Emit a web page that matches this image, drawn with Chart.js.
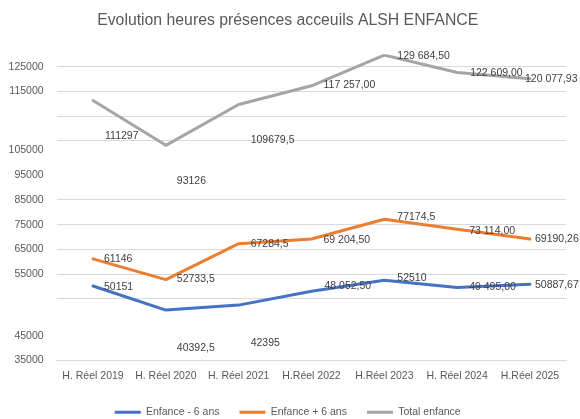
<!DOCTYPE html>
<html lang="fr">
<head>
<meta charset="utf-8">
<title>Evolution heures présences acceuils ALSH ENFANCE</title>
<script src="https://cdn.jsdelivr.net/npm/chart.js@4/dist/chart.umd.min.js"></script>
<style>
  html, body { margin: 0; padding: 0; background: #fff; }
  #wrap { width: 580px; height: 419px; position: relative; }
</style>
</head>
<body>
<div id="wrap"><canvas id="alshChart"></canvas></div>
<script>
// categories (x axis)
const years = ["H. Réel 2019", "H. Réel 2020", "H. Réel 2021", "H.Réel 2022", "H.Réel 2023", "H. Réel 2024", "H.Réel 2025"];

// series values
const moins6 = [50151, 40392.5, 42395, 48052.5, 52510, 49495, 50887.67];
const plus6 = [61146, 52733.5, 67284.5, 69204.5, 77174.5, 73114, 69190.26];
const totalEnfance = [111297, 93126, 109679.5, 117257, 129684.5, 122609, 120077.93];

// how each data label is written ("fr" = spaced thousands + 2 decimals)
const fmtMoins6 = ["", "", "", "fr", "", "fr", ""];
const fmtPlus6 = ["", "", "", "fr", "", "fr", ""];
const fmtTotal = ["", "", "", "fr", "fr", "fr", "fr"];

// left axis: tick values and the text shown there (the original axis is patched by hand)
const yTickValues = [139000, 129000, 119000, 109000, 105000, 95000, 85000, 75000, 65000, 55000, 45000, 30000, 20000];
const yTickLabels = ["125000", "115000", "", "", "105000", "95000", "85000", "75000", "65000", "55000", "", "45000", "35000"];
const yGridValues = [139000, 129000, 119000, 109000, 85000, 75000, 65000, 55000, 45000];

// label offsets (px) from each point: [dx, dy]
const offMoins6 = [[11, 1], [11, 38], [12, 38], [13, -5], [13, -2], [12, 0], [5, 1]];
const offPlus6 = [[11, 0], [11, 0], [12, 0], [12, 1], [13, -2], [12, 2], [5, 0]];
const offTotal = [[12, 36], [11, 36], [12, 36], [12, -1], [13, 1], [13, 1], [-5, 0]];

const BLUE = "#4472C4", ORANGE = "#ED7D31", GREY = "#A5A5A5";
const FONT = '"Liberation Sans", Arial, sans-serif';

function formatValue(v, f) {
  if (f !== "fr") return String(v).replace(".", ",");
  const parts = v.toFixed(2).split(".");
  const intPart = parts[0].replace(/\B(?=(\d{3})+(?!\d))/g, " ");
  return intPart + "," + parts[1];
}

// simple data label drawing (no datalabels plugin available)
const pointLabels = {
  id: "pointLabels",
  afterDatasetsDraw(chart) {
    const c = chart.ctx;
    c.save();
    c.font = "10.5px " + FONT;
    c.fillStyle = "#404040";
    c.textAlign = "left";
    c.textBaseline = "middle";
    chart.data.datasets.forEach((ds, di) => {
      const meta = chart.getDatasetMeta(di);
      meta.data.forEach((pt, i) => {
        const off = ds.labelOffsets[i];
        c.fillText(formatValue(ds.data[i], ds.labelFormats[i]), pt.x + off[0], pt.y + off[1]);
      });
    });
    c.restore();
  }
};

Chart.defaults.font.family = FONT;
Chart.defaults.font.size = 10.5;
Chart.defaults.color = "#595959";

new Chart(document.getElementById("alshChart"), {
  type: "line",
  data: {
    labels: years,
    datasets: [
      {
        label: "Enfance - 6 ans",
        data: moins6,
        borderColor: BLUE,
        backgroundColor: BLUE,
        borderWidth: 3,
        labelFormats: fmtMoins6,
        labelOffsets: offMoins6,
        yAxisID: "y",
      },
      {
        label: "Enfance + 6 ans",
        data: plus6,
        borderColor: ORANGE,
        backgroundColor: ORANGE,
        borderWidth: 3,
        labelFormats: fmtPlus6,
        labelOffsets: offPlus6,
        yAxisID: "y",
      },
      {
        label: "Total enfance",
        data: totalEnfance,
        borderColor: GREY,
        backgroundColor: GREY,
        borderWidth: 3,
        labelFormats: fmtTotal,
        labelOffsets: offTotal,
        yAxisID: "y2",
      },
    ],
  },
  options: {
    responsive: true,
    maintainAspectRatio: false,
    animation: false,
    layout: { padding: { left: 9, right: 13.6, top: 0, bottom: 0 } },
    elements: {
      line: { tension: 0, borderCapStyle: "round", borderJoinStyle: "round" },
      point: { radius: 0, hoverRadius: 0 },
    },
    scales: {
      x: {
        offset: true,
        grid: { display: false, drawTicks: false },
        border: { display: true, color: "#D9D9D9", width: 1 },
        ticks: { padding: 9, color: "#595959", maxRotation: 0, autoSkip: false },
        afterFit(scale) { scale.height = 26.6; },
      },
      y: {
        position: "left",
        min: 20000,
        max: 144000,
        border: { display: false },
        grid: {
          drawTicks: false,
          lineWidth: 1,
          color: (ctx) => (ctx.tick && yGridValues.includes(ctx.tick.value) ? "#D9D9D9" : "rgba(0,0,0,0)"),
        },
        afterBuildTicks(scale) {
          scale.ticks = yTickValues.map((v) => ({ value: v }));
        },
        ticks: {
          autoSkip: false,
          padding: 13,
          color: "#595959",
          callback: (value, index) => yTickLabels[index],
        },
        afterFit(scale) { scale.width = 47.6; },
      },
      y2: {
        display: false,
        min: 6000,
        max: 130000,
      },
    },
    plugins: {
      title: {
        display: true,
        text: "Evolution heures présences acceuils ALSH ENFANCE",
        color: "#595959",
        font: { size: 15.8, weight: "normal", family: FONT },
        padding: { top: 11.5, bottom: 23.85 },
      },
      legend: {
        position: "bottom",
        maxHeight: 32,
        labels: {
          usePointStyle: true,
          pointStyle: "line",
          pointStyleWidth: 26,
          padding: 20,
          color: "#595959",
          font: { size: 10.5 },
        },
      },
      tooltip: { enabled: false },
    },
  },
  plugins: [pointLabels],
});
</script>
</body>
</html>
